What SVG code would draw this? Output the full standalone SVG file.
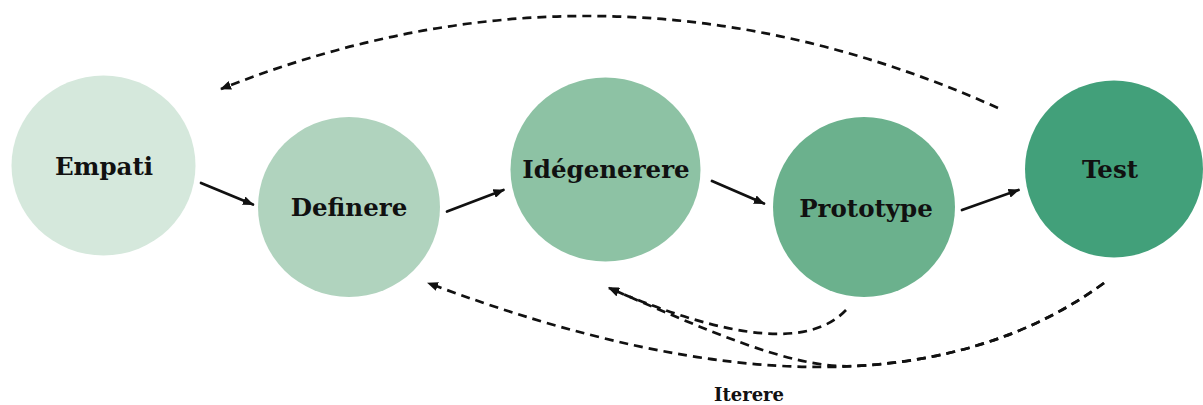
<svg xmlns="http://www.w3.org/2000/svg" width="1203" height="405" viewBox="0 0 1203 405">
  <style>
    .label { font-family: "DejaVu Serif", "Liberation Serif", serif; font-weight: bold; font-size: 24.5px; fill: #111; text-anchor: middle; }
    .note { font-family: "DejaVu Serif", "Liberation Serif", serif; font-weight: bold; font-size: 18px; fill: #111; text-anchor: middle; }
    .step { fill: none; stroke: #111; stroke-width: 2.7; stroke-linecap: round; }
    .loop { fill: none; stroke: #111; stroke-width: 2.7; stroke-dasharray: 9 6; }
  </style>
  <defs>
    <marker id="head" viewBox="0 0 11 9" refX="10" refY="4.5" markerWidth="11" markerHeight="9" markerUnits="userSpaceOnUse" orient="auto">
      <path d="M0,0 L11,4.5 L0,9 Z" fill="#111"/>
    </marker>
  </defs>

  <rect width="1203" height="405" fill="#ffffff"/>

  <!-- process stages -->
  <g id="node-empati">
    <ellipse cx="103.5" cy="165.5" rx="92" ry="90" fill="#d5e8dc"/>
    <text class="label" x="104" y="175">Empati</text>
  </g>
  <g id="node-definere">
    <ellipse cx="349" cy="207" rx="91" ry="90" fill="#b0d3be"/>
    <text class="label" x="349" y="216">Definere</text>
  </g>
  <g id="node-idegenerere">
    <ellipse cx="605.5" cy="169.5" rx="95" ry="92" fill="#8dc2a4"/>
    <text class="label" x="606" y="178">Idégenerere</text>
  </g>
  <g id="node-prototype">
    <ellipse cx="864" cy="207" rx="91" ry="90" fill="#6bb18d"/>
    <text class="label" x="866" y="217">Prototype</text>
  </g>
  <g id="node-test">
    <ellipse cx="1114" cy="169" rx="89" ry="88.5" fill="#42a07a"/>
    <text class="label" x="1110" y="178">Test</text>
  </g>

  <!-- connectors: forward steps and iteration loops -->
  <g id="connectors">
    <line class="step" x1="201" y1="183" x2="253" y2="204.5" marker-end="url(#head)"/>
    <line class="step" x1="447" y1="211.5" x2="503.5" y2="190" marker-end="url(#head)"/>
    <line class="step" x1="712" y1="181" x2="764" y2="203.5" marker-end="url(#head)"/>
    <line class="step" x1="962" y1="210" x2="1018.5" y2="190" marker-end="url(#head)"/>

    <path class="loop" d="M998,108 Q610,-66 221,89" marker-end="url(#head)"/>
    <path class="loop" d="M1104,283 Q874,451 428,283" marker-end="url(#head)"/>
    <path class="loop" d="M1104,283 Q1000.5,358.6 853.3,366.1 C790,369 700,327 609,288" marker-end="url(#head)"/>
    <path class="loop" d="M846,310 Q792,367 609,288" marker-end="url(#head)"/>
  </g>

  <text class="note" x="749" y="401">Iterere</text>
</svg>
